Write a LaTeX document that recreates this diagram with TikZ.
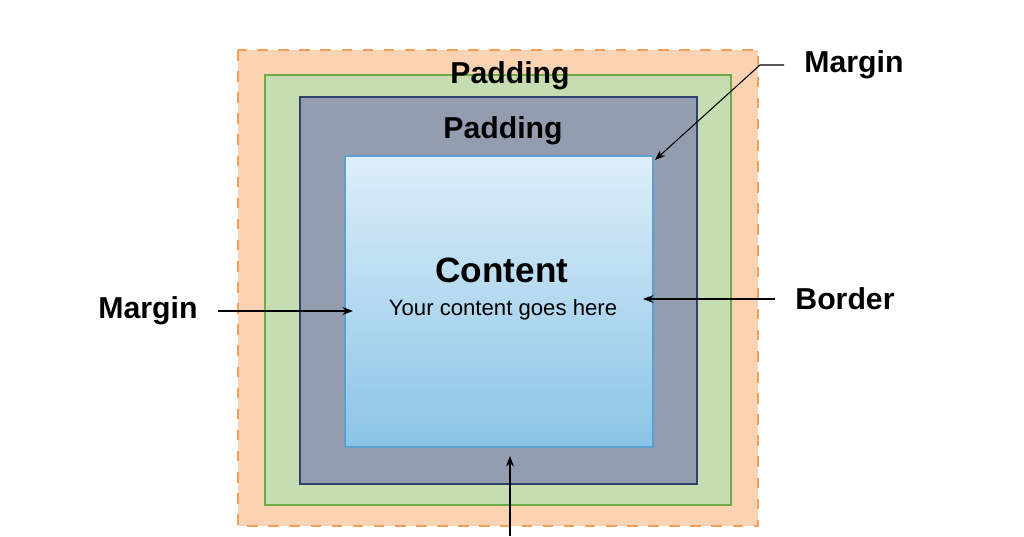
\documentclass[tikz,border=0pt]{standalone}
\usepackage{fontspec}
\setmainfont{Liberation Sans}
\usetikzlibrary{arrows.meta}
\definecolor{marginfill}{RGB}{250,212,178}
\definecolor{margindraw}{RGB}{240,160,90}
\definecolor{padfill}{RGB}{198,221,178}
\definecolor{paddraw}{RGB}{110,170,70}
\definecolor{borderfill}{RGB}{148,157,176}
\definecolor{borderdraw}{RGB}{46,66,110}
\definecolor{contop}{RGB}{222,238,250}
\definecolor{conbot}{RGB}{138,196,230}
\definecolor{condraw}{RGB}{90,160,208}
\tikzset{lbl/.style={font=\bfseries\fontsize{8.6}{10}\selectfont},
 pointer/.style={-{Stealth[length=3pt]},line width=0.3pt,black}}
\begin{document}
\begin{tikzpicture}[x=0.01cm,y=-0.01cm]
\useasboundingbox[fill=white] (0,0) rectangle (1024,536);

\draw[fill=marginfill,draw=margindraw,dashed,line width=0.5pt] (238,50) rectangle (758,526);
\draw[fill=padfill,draw=paddraw,line width=0.7pt] (265,75) rectangle (731,505);
\draw[fill=borderfill,draw=borderdraw,line width=0.7pt] (300,97) rectangle (697,484);
\shade[top color=contop,bottom color=conbot] (345,156) rectangle (653,447);
\draw[condraw,line width=0.6pt] (345,156) rectangle (653,447);

\node[lbl] (pad1) at (510,76) {Padding};
\node[lbl] (pad2) at (503,131) {Padding};
\node[font=\bfseries\fontsize{10}{12}\selectfont] (content) at (502,270) {Content};
\node[font=\fontsize{6.3}{8}\selectfont] (sub) at (503,310) {Your content goes here};

\node[lbl,anchor=west] (mtop) at (792,65) {Margin};
\node[lbl,anchor=east] (mleft) at (210,311) {Margin};
\node[lbl,anchor=west] (bord) at (783,299) {Border};

\coordinate (mtopknee) at (760,65);
\coordinate (mtopend) at (655,160);
\coordinate (mleftend) at (353,311);
\coordinate (bordend) at (643,299);
\coordinate (botstart) at (510,536);
\coordinate (botend) at (510,456);

\draw[pointer] (mtop.west) ++(-8,0) -- (mtopknee) -- (mtopend);
\draw[pointer] (mleft.east) ++(8,0) -- (mleftend);
\draw[pointer] (bord.west) ++(-8,0) -- (bordend);
\draw[pointer] (botstart) -- (botend);
\end{tikzpicture}
\end{document}
